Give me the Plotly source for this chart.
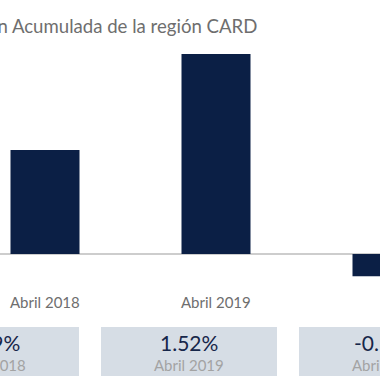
import plotly.graph_objects as go

categories = ["Abril 2018", "Abril 2019", "Abril 2020"]
values = [0.79, 1.52, -0.17]
title_text = "Inflación Acumulada de la región CARD"

W, H = 380, 380
bar_color = "#0b1f45"
font_family = "Lato, 'Open Sans', sans-serif"

# pixel geometry
bar_c0, bar_step = 45.0, 171.0
base_px, top_px = 254.0, 54.0
px_per_unit = (base_px - top_px) / max(values)

xs = list(range(len(categories)))
x_min = -bar_c0 / bar_step
x_max = (W - bar_c0) / bar_step
y_max = max(values) + top_px / px_per_unit
y_min = -(H - base_px) / px_per_unit

fig = go.Figure()
fig.add_trace(go.Bar(
    x=xs, y=values, width=69 / bar_step,
    marker=dict(color=bar_color, line=dict(width=0)),
    hoverinfo="skip",
))

annotations = [dict(
    text=title_text, xref="paper", yref="paper",
    x=259 / W, y=1 - 26 / H, xanchor="right", yanchor="middle",
    showarrow=False, font=dict(family=font_family, size=18.6, color="#6e6e6e"),
)]
label_y = -(302 - base_px) / px_per_unit
for x, c in zip(xs, categories):
    annotations.append(dict(
        text=c, x=x, y=label_y, xref="x", yref="y",
        showarrow=False, xanchor="center", yanchor="middle",
        font=dict(family=font_family, size=15, color="#6e6e6e"),
    ))

shapes = [dict(
    type="line", xref="paper", yref="y", x0=0, x1=1, y0=0, y1=0,
    line=dict(color="#bdbdbd", width=1.5), layer="below",
)]
box_c0, box_step, box_w = -9.0, 198.0, 176.0
for i, (c, v) in enumerate(zip(categories, values)):
    cx = box_c0 + box_step * i
    shapes.append(dict(
        type="rect", xref="paper", yref="paper",
        x0=(cx - box_w / 2) / W, x1=(cx + box_w / 2) / W,
        y0=1 - 376 / H, y1=1 - 327 / H,
        fillcolor="#d6dde5", line=dict(width=0), layer="below",
    ))
    annotations.append(dict(
        text=f"{v:.2f}%", xref="paper", yref="paper",
        x=cx / W, y=1 - 342 / H, xanchor="center", yanchor="middle",
        showarrow=False, font=dict(family=font_family, size=21, color="#16264a"),
    ))
    annotations.append(dict(
        text=c, xref="paper", yref="paper",
        x=cx / W, y=1 - 365 / H, xanchor="center", yanchor="middle",
        showarrow=False, font=dict(family=font_family, size=15, color="#a3a3a3"),
    ))

fig.update_layout(
    width=W, height=H,
    margin=dict(l=0, r=0, t=0, b=0),
    paper_bgcolor="white", plot_bgcolor="white",
    showlegend=False,
    xaxis=dict(range=[x_min, x_max], visible=False),
    yaxis=dict(range=[y_min, y_max], visible=False),
    shapes=shapes, annotations=annotations,
)

fig.write_html(
    "out.html",
    config={"displayModeBar": False},
    post_script="document.body.style.margin='0';document.body.style.overflow='hidden';",
)
